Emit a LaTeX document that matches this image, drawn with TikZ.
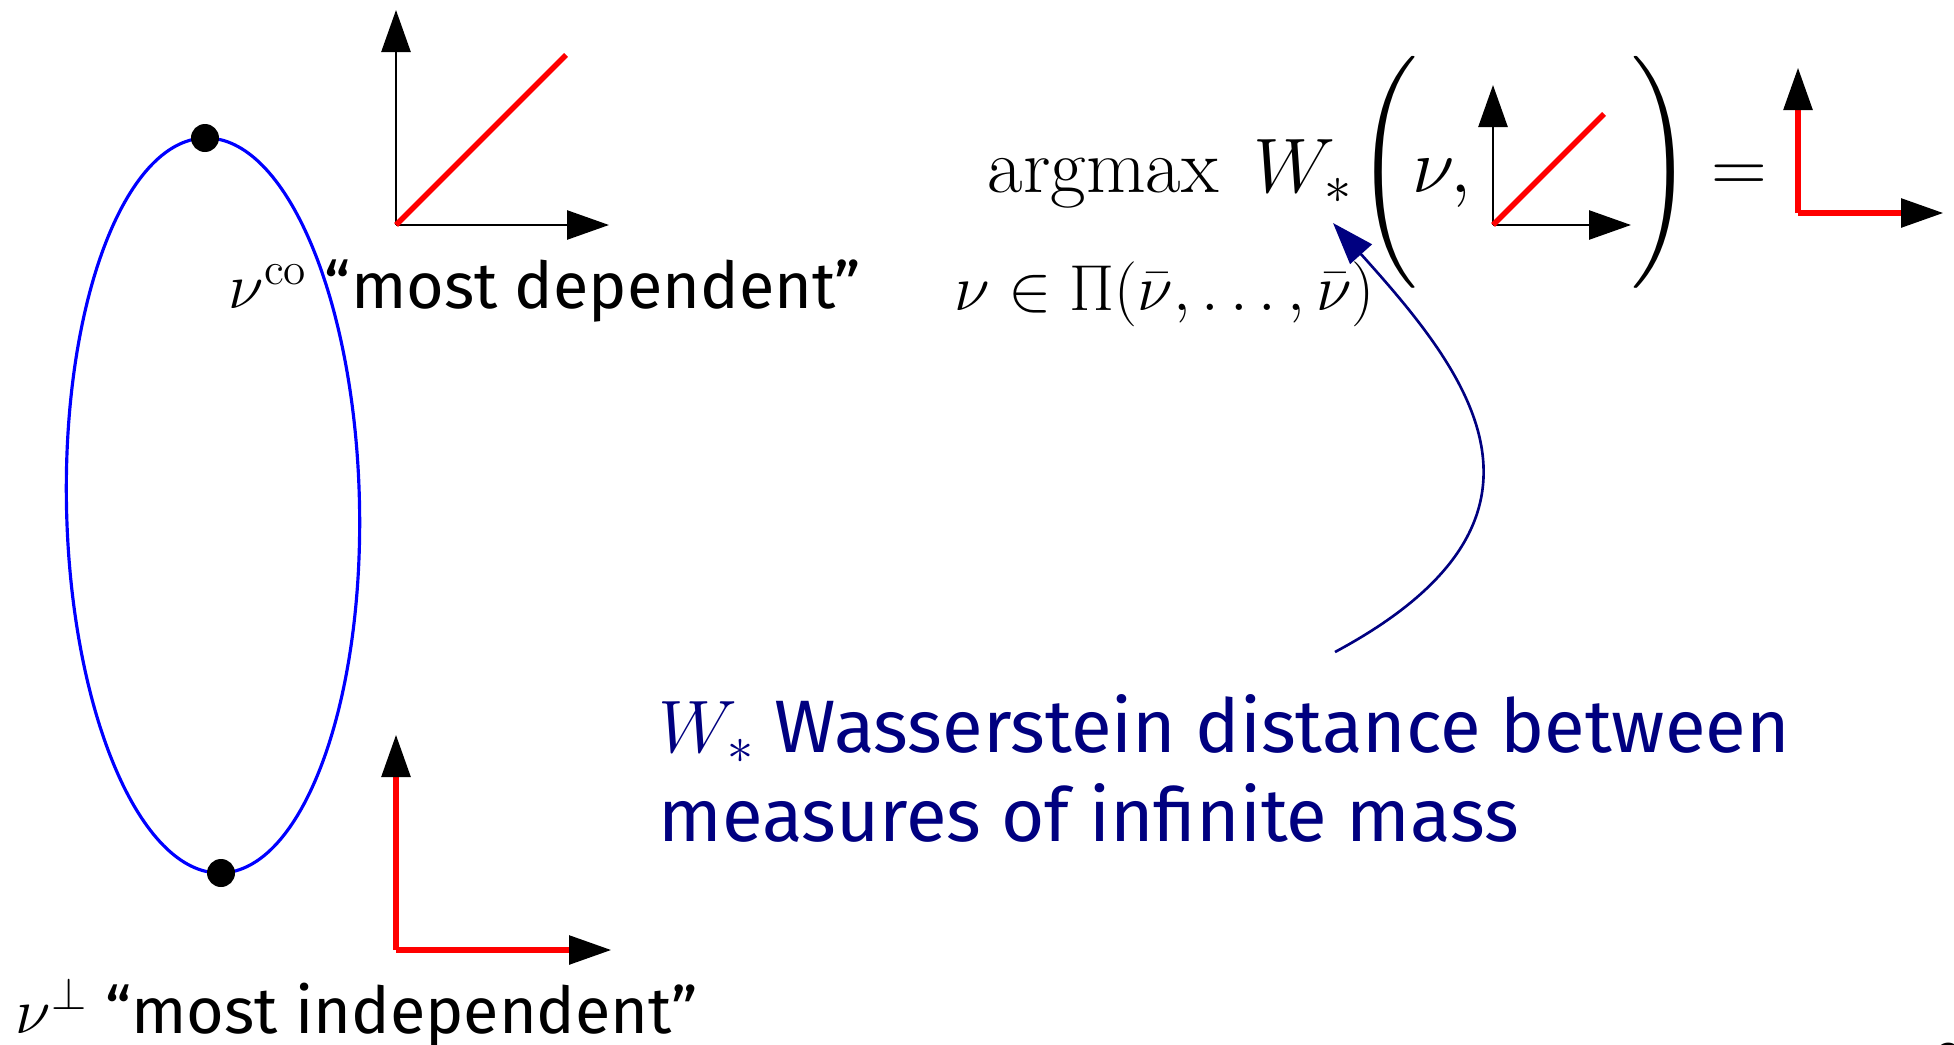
\RequirePackage{fix-cm}
\documentclass[tikz,border=0pt]{standalone}
\usepackage{amsmath,amssymb}
\usepackage{fontspec}
\setsansfont{Fira Sans}
\usetikzlibrary{arrows.meta}

\definecolor{navyblue}{RGB}{0,0,128}
\newcommand{\slidefont}{\fontsize{22}{26}\selectfont}
\newcommand{\subfont}{\fontsize{18.5}{22}\selectfont}
\newcommand{\labelfont}{\fontsize{18.4}{22}\selectfont\sffamily}
\newcommand{\notefont}{\fontsize{21.15}{25}\selectfont\sffamily}

\begin{document}
\begin{tikzpicture}[
  axis/.style={line width=0.75pt, -{Triangle[length=4.2mm,width=2.9mm]}},
  indep/.style={red, line width=1.6pt, -{Triangle[length=4.2mm,width=2.9mm,black,line width=0.75pt]}},
  diag/.style={red, line width=1.6pt},
  dot/.style={circle, fill=black, inner sep=0pt, minimum size=2.8mm},
  lbl/.style={inner sep=0pt, anchor=base west, font=\slidefont},
  sublbl/.style={inner sep=0pt, anchor=base west, font=\subfont},
  caplbl/.style={inner sep=0pt, anchor=base west, font=\labelfont},
  note/.style={inner sep=0pt, anchor=base west, text=navyblue, font=\notefont},
  pointer/.style={navyblue, line width=0.75pt, -{Triangle[length=4.2mm,width=2.9mm]}}
]
\useasboundingbox (0,0) rectangle (19.54,-10.45);

% curve of couplings
\begin{scope}[shift={(2.13,-5.055)}, rotate=1.25]
\draw[blue, line width=0.9pt] (0,0) ellipse (1.465 and 3.676);
\node[dot] (nuco) at (0,3.676) {};
\node[dot] (nuperp) at (0,-3.676) {};
\end{scope}

% small plots: comonotone ones and independent ones
\coordinate (coorig) at (3.96,-2.25);
\coordinate (perporig) at (3.96,-9.50);
\coordinate (eqorig) at (14.93,-2.25);
\coordinate (resorig) at (17.98,-2.13);
\foreach \o/\s/\d in {coorig/2.15/1.70, eqorig/1.40/1.11} {
\draw[axis] (\o) -- ++(0,\s);
\draw[axis] (\o) -- ++(\s-0.02,0);
\draw[diag] (\o) -- ++(\d,\d);
}
\foreach \o/\s in {perporig/2.15, resorig/1.45} {
\draw[indep] (\o) -- ++(0,\s);
\draw[indep] (\o) -- ++(\s,0);
}

\node[caplbl] (colabel) at (2.28,-3.08) {$\nu^{\mathrm{co}}$ “most dependent”};
\node[caplbl] (perplabel) at (0.15,-10.33) {$\nu^{\perp}$ “most independent”};

% the maximisation problem
\node[lbl] (argmax) at (9.87,-1.92) {$\mathop{\mathrm{argmax}}\;W_*$};
\node[sublbl] (argsub) at (9.54,-3.10) {$\nu\in\Pi(\bar\nu,\dots,\bar\nu)$};
\node[lbl] (lpar) at (13.56,-1.92) {$\left(\vrule height 37.5pt depth 26.5pt width 0pt\right.$};
\node[lbl] (nuarg) at (14.12,-1.92) {$\nu,$};
\node[lbl] (rpar) at (16.27,-1.92) {$\left.\vrule height 37.5pt depth 26.5pt width 0pt\right)$};
\node[lbl] (eqsign) at (17.11,-1.92) {$=$};

\node[note] (wline) at (6.58,-7.52) {$W_*$ Wasserstein distance between};
\node[note] (mline) at (6.58,-8.41) {measures of infinite mass};

\coordinate (wstart) at (13.35,-6.52);
\coordinate (wtip) at (13.33,-2.23);
\draw[pointer] (wstart) .. controls (15.85,-5.18) and (14.67,-3.72) .. (wtip);

\node[inner sep=0pt, anchor=north west, font=\fontsize{14}{16}\selectfont\sffamily] (pagenum) at (19.37,-10.42) {2};
\end{tikzpicture}
\end{document}
